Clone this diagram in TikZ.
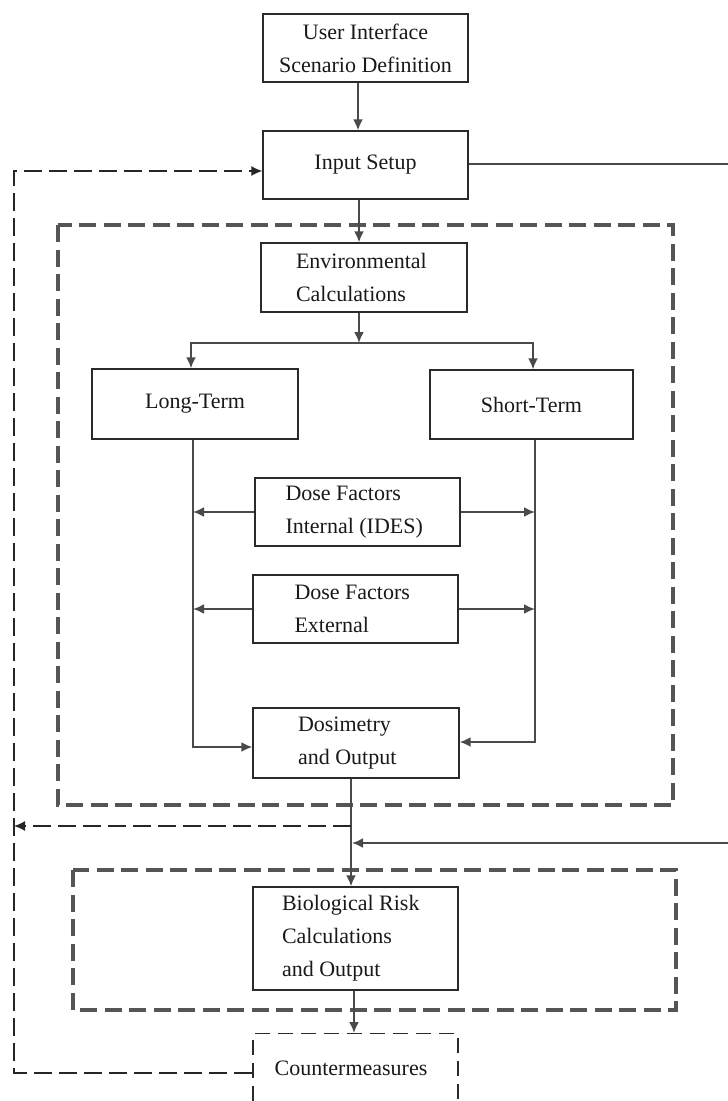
\documentclass[tikz,border=0pt]{standalone}
\usepackage{fontspec}
\setmainfont{Liberation Serif}
\usetikzlibrary{arrows.meta,calc}

\definecolor{boxline}{HTML}{2A2A2A}
\definecolor{conn}{HTML}{4A4A4A}
\definecolor{frame}{HTML}{555555}

\tikzset{
  blk/.style={draw=boxline, line width=1.3pt, minimum width=205pt, minimum height=68pt,
    inner sep=0pt, font=\fontsize{22}{33}\selectfont, align=flush left, text=black!90},
  tip/.style={-{Latex[length=11pt,width=10pt]}},
  arr/.style={draw=conn, line width=2pt, tip},
  fbline/.style={draw=black!85, line width=1.3pt, dash pattern=on 18pt off 7pt},
  fbarr/.style={fbline, tip},
  frm/.style={draw=frame, line width=3.8pt, dash pattern=on 17pt off 7.5pt},
}

\begin{document}
\begin{tikzpicture}[x=1pt,y=-1pt]
\useasboundingbox (0,0) rectangle (728,1101);

% grouping frames
\draw[frm] (58,225) rectangle (673,805);
\draw[frm] (73,870) rectangle (676,1010);

% process blocks
\node[blk, align=center] (ui) at (365.5,48) {User Interface\\Scenario Definition};
\node[blk, align=center] (inp) at (365.5,165) {Input Setup};
\node[blk, minimum width=206pt, minimum height=69pt, text width=136pt] (env) at (364,277.5) {Environmental\\Calculations};
\node[blk, minimum width=206pt, minimum height=70pt, align=center] (lt) at (195,404) {Long-Term};
\node[blk, minimum width=203pt, minimum height=69pt, align=center] (st) at (531.5,404.5) {Short-Term};
\node[blk, text width=144pt] (dfi) at (357.5,512) {Dose Factors\\Internal (IDES)};
\node[blk, text width=122pt] (dfe) at (355.5,609) {Dose Factors\\External};
\node[blk, minimum width=206pt, minimum height=70pt, text width=116pt] (dos) at (356,743) {Dosimetry\\and Output};
\node[blk, minimum height=103pt, text width=147pt] (bio) at (355.5,938.5) {Biological Risk\\Calculations\\and Output};
\node[draw=boxline, line width=1.3pt, dash pattern=on 15pt off 8pt, minimum width=205pt,
  minimum height=90pt, anchor=north] (cm) at (355.5,1033) {};
\node[font=\fontsize{22}{33}\selectfont, text=black!90] (cmt) at (351,1068) {Countermeasures};

% routing points
\coordinate (xUI) at (358,0);
\coordinate (xIN) at (359,0);
\coordinate (sp) at (359,343);
\coordinate (xL) at (193,0);
\coordinate (xLa) at (191,0);
\coordinate (xR) at (535,0);
\coordinate (xRa) at (533,0);
\coordinate (yL) at (0,747);
\coordinate (yR) at (0,742);
\coordinate (xM) at (351,0);
\coordinate (xB) at (354,0);
\coordinate (fb) at (351,826);
\coordinate (lpT) at (14,171);
\coordinate (lpB) at (14,1073);
\coordinate (rt) at (745,164);
\coordinate (rb) at (745,843);
\coordinate (join) at (352,843);

% main flow
\draw[arr] (ui.south -| xUI) -- (inp.north -| xUI);
\draw[arr] (inp.south -| xIN) -- (env.north -| xIN);
\draw[arr] (env.south -| xIN) -- (sp);
\draw[arr] (sp) -| (lt.north -| xLa);
\draw[arr] (sp) -| (st.north -| xRa);
\draw[arr] (lt.south -| xL) |- (dos.west |- yL);
\draw[arr] (st.south -| xR) |- (dos.east |- yR);
\draw[arr] (dfi.west) -- (dfi.west -| xL);
\draw[arr] (dfi.east) -- (dfi.east -| xR);
\draw[arr] (dfe.west) -- (dfe.west -| xL);
\draw[arr] (dfe.east) -- (dfe.east -| xR);
\draw[arr] (dos.south -| xM) -- (bio.north -| xM);
\draw[arr] (bio.south -| xB) -- (cm.north -| xB);

% bypass from input setup
\draw[arr] (inp.east |- rt) -- (rt) -- (rb) -- (join);

% feedback loop
\draw[fbarr] (fb) -- (fb -| lpB);
\draw[fbarr] (cm.west |- lpB) -- (lpB) -- (lpT) -- (inp.west |- lpT);
\end{tikzpicture}
\end{document}
